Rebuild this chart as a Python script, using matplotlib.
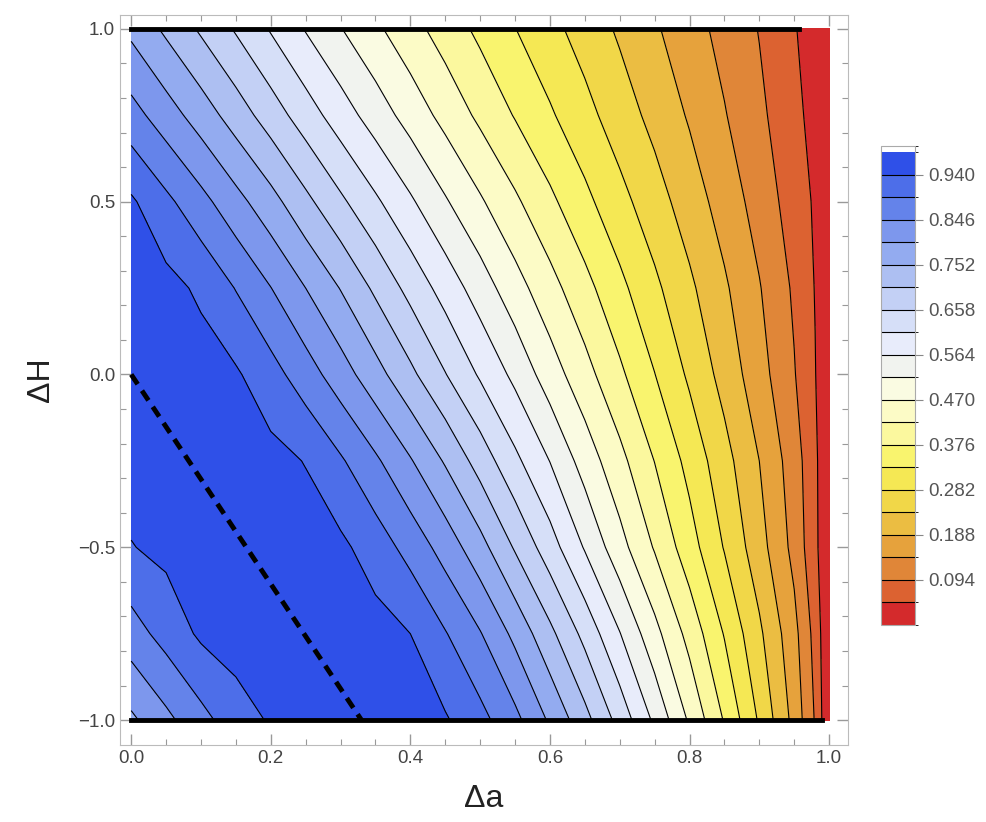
import numpy as np
import matplotlib.pyplot as plt
from matplotlib.colors import ListedColormap, BoundaryNorm

plt.rcParams['font.family'] = ['Liberation Sans', 'DejaVu Sans']

# grid (rows = dH, cols = da)
da = [0.0, 0.05, 0.1, 0.15, 0.2, 0.25, 0.3, 0.35, 0.4, 0.45, 0.5, 0.55, 0.6, 0.65,
      0.7, 0.75, 0.8, 0.85, 0.9, 0.95, 0.98, 1.0]
dH = [-1.0, -0.75, -0.5, -0.25, 0.0, 0.25, 0.5, 0.75, 1.0]
z_m100 = [0.790, 0.834, 0.878, 0.918, 0.945, 0.958, 0.968, 0.973, 0.962, 0.945, 0.908,
          0.859, 0.792, 0.721, 0.641, 0.555, 0.463, 0.372, 0.276, 0.173, 0.090, 0.0]
z_m075 = [0.872, 0.911, 0.948, 0.962, 0.970, 0.975, 0.968, 0.958, 0.940, 0.896, 0.849,
          0.787, 0.717, 0.644, 0.566, 0.485, 0.407, 0.326, 0.244, 0.156, 0.078, 0.0]
z_m050 = [0.938, 0.952, 0.965, 0.974, 0.972, 0.962, 0.950, 0.918, 0.876, 0.827, 0.769,
          0.700, 0.632, 0.560, 0.487, 0.419, 0.349, 0.279, 0.207, 0.127, 0.059, 0.0]
z_m025 = [0.962, 0.972, 0.975, 0.968, 0.955, 0.938, 0.899, 0.854, 0.803, 0.747, 0.685,
          0.622, 0.563, 0.497, 0.437, 0.375, 0.314, 0.252, 0.188, 0.117, 0.057, 0.0]
z_000 = [0.975, 0.970, 0.960, 0.946, 0.911, 0.868, 0.821, 0.770, 0.716, 0.660, 0.605,
         0.552, 0.493, 0.440, 0.385, 0.330, 0.274, 0.218, 0.160, 0.097, 0.049, 0.0]
z_p025 = [0.965, 0.955, 0.932, 0.891, 0.847, 0.799, 0.750, 0.696, 0.643, 0.592, 0.541,
          0.489, 0.440, 0.391, 0.341, 0.292, 0.244, 0.195, 0.144, 0.087, 0.045, 0.0]
z_p050 = [0.947, 0.904, 0.861, 0.815, 0.769, 0.717, 0.667, 0.619, 0.571, 0.522, 0.476,
          0.431, 0.386, 0.341, 0.297, 0.255, 0.212, 0.168, 0.122, 0.072, 0.041, 0.0]
z_p075 = [0.864, 0.821, 0.777, 0.730, 0.682, 0.634, 0.587, 0.542, 0.498, 0.455, 0.413,
          0.373, 0.335, 0.297, 0.258, 0.221, 0.183, 0.144, 0.104, 0.061, 0.030, 0.0]
z_p100 = [0.788, 0.743, 0.698, 0.653, 0.607, 0.561, 0.519, 0.479, 0.440, 0.402, 0.365,
          0.330, 0.296, 0.262, 0.228, 0.194, 0.160, 0.126, 0.092, 0.051, 0.020, 0.0]

# dashed ridge and the heavy edges along dH = +-1
ridge_a = [0.0, 0.33]
ridge_H = [0.0, -1.0]
top_edge_a = [0.0, 0.957]
bot_edge_a = [0.0, 0.99]

step = 0.047
levels = [round(step * k, 3) for k in range(22)] + [1.0]
cb_ticks = [0.094, 0.188, 0.282, 0.376, 0.470, 0.564, 0.658, 0.752, 0.846, 0.940]

band_colors = ['#d42a2c', '#dc6231', '#e08638', '#e6a23c', '#ebbd42', '#f1d748',
               '#f5e854', '#f9f46e', '#fbf89e', '#fcfbc6', '#fafbe2', '#f1f3ef',
               '#e8ecfb', '#d6dff8', '#c3d0f5', '#adbff2', '#93abf0', '#7d97ed',
               '#6483ea', '#4d6ee9', '#2f50e8', '#ffffff']
cmap = ListedColormap(band_colors)
norm = BoundaryNorm(levels, cmap.N)

Z = np.array([z_m100, z_m075, z_m050, z_m025, z_000, z_p025, z_p050, z_p075, z_p100])

fig = plt.figure(figsize=(9.87, 8.22), dpi=100)
ax = fig.add_axes([0.1216, 0.0937, 0.7375, 0.888])

cf = ax.contourf(da, dH, Z, levels=levels, cmap=cmap, norm=norm)
cs = ax.contour(da, dH, Z, levels=levels[1:21], colors='k', linewidths=0.8)

ax.plot(ridge_a, ridge_H, color='k', lw=3.5, dashes=(2.4, 1.6))
ax.plot(top_edge_a, [1.0, 1.0], color='k', lw=3.5)
ax.plot(bot_edge_a, [-1.0, -1.0], color='k', lw=3.5)

ax.set_xlim(-0.016, 1.027)
ax.set_ylim(-1.072, 1.040)
ax.set_xticks([0.0, 0.2, 0.4, 0.6, 0.8, 1.0])
ax.set_xticks(np.arange(0, 1.001, 0.05), minor=True)
ax.set_yticks([-1.0, -0.5, 0.0, 0.5, 1.0])
ax.set_yticks(np.arange(-1, 1.001, 0.1), minor=True)
ax.tick_params(which='both', direction='in', top=True, right=True, color='#999999',
               labelcolor='#444444', labelsize=13.5)
ax.tick_params(which='major', length=8, width=1)
ax.tick_params(which='minor', length=4, width=0.8)
for s in ax.spines.values():
    s.set_color('#bbbbbb')
ax.set_xlabel('Δa', fontsize=23, labelpad=12, color='#222222')
ax.set_ylabel('ΔH', fontsize=23, labelpad=16, color='#222222')

cax = fig.add_axes([0.8926, 0.2397, 0.0344, 0.5827])
cb = fig.colorbar(cf, cax=cax, spacing='proportional', ticks=cb_ticks)
cb.add_lines(cs)
cb.ax.set_yticklabels(['%.3f' % t for t in cb_ticks])
cb.ax.tick_params(direction='out', length=6, color='#888888', labelcolor='#555555', labelsize=13.5)
cb.outline.set_edgecolor('#aaaaaa')

fig.savefig('out.png', dpi=100)
